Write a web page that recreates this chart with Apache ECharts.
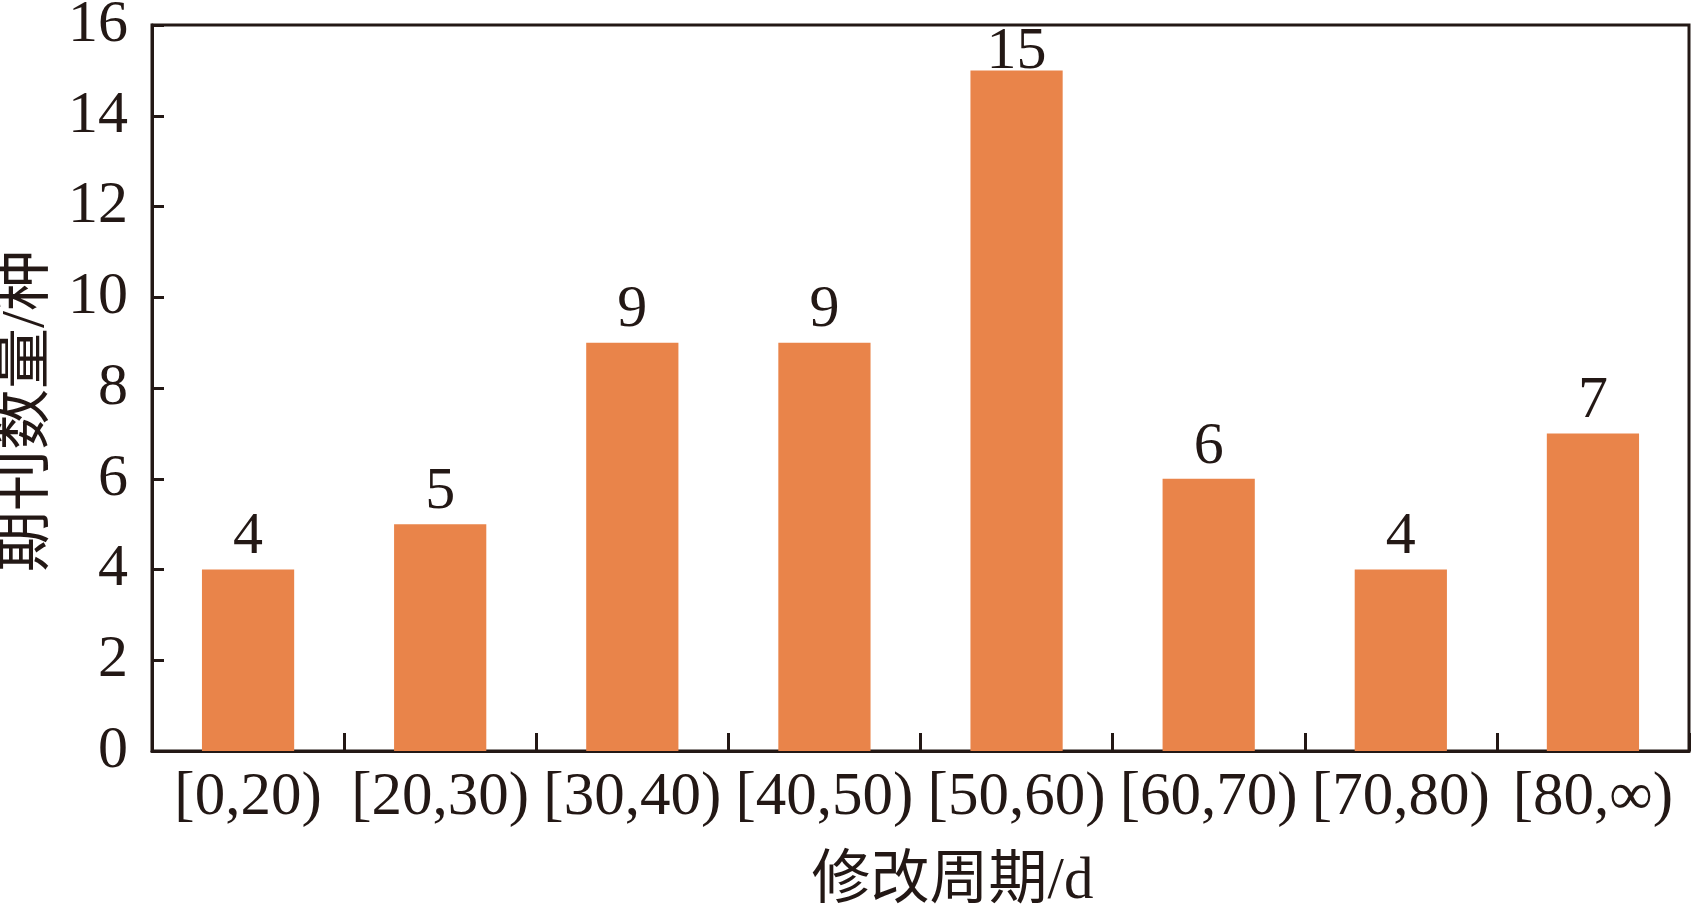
<!DOCTYPE html>
<html>
<head>
<meta charset="utf-8">
<script src="https://cdn.jsdelivr.net/npm/echarts@6/dist/echarts.min.js"></script>
<style>
html,body{margin:0;padding:0;background:#fff;}
#chart{width:1701px;height:911px;}
</style>
</head>
<body>
<div id="chart"></div>
<script>
const categories = ['[0,20)', '[20,30)', '[30,40)', '[40,50)', '[50,60)', '[60,70)', '[70,80)', '[80,∞)'];
const counts = [4, 5, 9, 9, 15, 6, 4, 7];
const xAxisTitle = '修改周期/d';
const yAxisTitle = '期刊数量/种';

const ink = '#231815';
const font = '"Liberation Serif", "Times New Roman", "Noto Sans CJK SC", serif';
const maxVal = Math.max(...counts);

const chart = echarts.init(document.getElementById('chart'), null, {renderer: 'canvas'});
chart.setOption({
  backgroundColor: '#ffffff',
  animation: false,
  grid: {
    left: 152, right: 12, top: 25, bottom: 160,
    show: true, borderColor: ink, borderWidth: 3, backgroundColor: 'transparent',
    outerBoundsMode: 'none'
  },
  xAxis: {
    type: 'category',
    data: categories,
    name: xAxisTitle,
    nameLocation: 'middle',
    nameGap: 102,
    nameTextStyle: {fontFamily: font, fontSize: 59, color: ink, padding: [0, 0, 0, 64]},
    axisLine: {show: true, lineStyle: {color: ink, width: 3}},
    axisTick: {show: true, inside: true, length: 18, lineStyle: {color: ink, width: 3}},
    axisLabel: {interval: 0, margin: 16, fontFamily: font, fontSize: 61, color: ink},
    splitLine: {show: false}
  },
  yAxis: {
    type: 'value',
    min: 0, max: 16, interval: 2,
    name: yAxisTitle,
    nameLocation: 'middle',
    nameGap: 88,
    nameTextStyle: {fontFamily: font, fontSize: 61, color: ink, padding: [0, 46, 0, 0]},
    axisLine: {show: true, lineStyle: {color: ink, width: 3}},
    axisTick: {show: true, inside: true, length: 12, lineStyle: {color: ink, width: 3}},
    axisLabel: {margin: 24, fontFamily: font, fontSize: 60, color: ink},
    splitLine: {show: false}
  },
  series: [{
    type: 'bar',
    data: counts.map(v => v === maxVal ? {value: v, label: {distance: -12}} : v),
    barWidth: '48%',
    itemStyle: {color: '#E9844A'},
    label: {
      show: true, position: 'top', distance: 2,
      fontFamily: font, fontSize: 60, color: ink
    }
  }]
});
</script>
</body>
</html>
